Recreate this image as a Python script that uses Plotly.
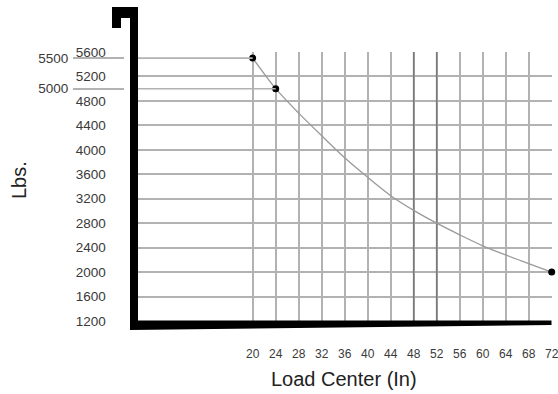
import plotly.graph_objs as go

W, H = 558, 394

# values
load_center = [20, 24, 28, 32, 36, 40, 44, 48, 52, 56, 60, 64, 68, 72]
capacity = [5500, 5000, 4600, 4230, 3870, 3550, 3250, 3010, 2800, 2610, 2430, 2280, 2140, 2000]
point_x = [20, 24, 72]
point_y = [5500, 5000, 2000]
rated_x = [20, 24]
rated_y = [5500, 5000]
x_ticks = list(range(20, 76, 4))
y_ticks = list(range(1200, 5700, 400))
dark_x = [48, 52]

grid = '#b2b2b2'
txt = '#3a3a3a'


def px(x):
    # screen pixel -> paper fraction
    return x / W


def py(y):
    return 1 - y / H


fig = go.Figure()

# partial lines for the rated capacities
lx, ly = [], []
for xv, yv in zip(rated_x, rated_y):
    lx += [0, xv, None]
    ly += [yv, yv, None]
fig.add_trace(go.Scatter(x=lx, y=ly, yaxis='y2', mode='lines',
                         line=dict(color=grid, width=1.6), hoverinfo='skip'))

# darker gridlines
for xv in dark_x:
    fig.add_trace(go.Scatter(x=[xv, xv], y=[y_ticks[0], y_ticks[-1]], mode='lines',
                             line=dict(color='#7a7a7a', width=1.6), hoverinfo='skip'))

fig.add_trace(go.Scatter(x=load_center, y=capacity, mode='lines',
                         line=dict(color='#9a9a9a', width=1.3, shape='spline', smoothing=0.8)))
fig.add_trace(go.Scatter(x=point_x, y=point_y, mode='markers', cliponaxis=False,
                         marker=dict(color='black', size=7, line=dict(width=0))))

# thick black frame with hook
frame = [(112, 7), (138, 7), (138, 320.5), (551.5, 320.5), (551.5, 325),
         (130, 330), (130, 18), (121, 18), (121, 28), (112, 28)]
path = 'M ' + ' L '.join(f'{px(a):.5f},{py(b):.5f}' for a, b in frame) + ' Z'
fig.add_shape(type='path', path=path, xref='paper', yref='paper',
              fillcolor='black', line=dict(width=0))

fig.update_layout(
    width=W, height=H,
    margin=dict(l=0, r=0, t=0, b=0),
    paper_bgcolor='white', plot_bgcolor='white',
    showlegend=False,
    font=dict(family='Liberation Sans, Arial, sans-serif', color=txt),
    xaxis=dict(range=[0, 72.02], domain=[px(137.7), px(551.8)],
               tickvals=x_ticks, showgrid=True, gridcolor=grid, gridwidth=1.6,
               zeroline=False, showline=False, ticks='', automargin=False,
               ticklabelstandoff=24, ticklabeloverflow='allow',
               tickfont=dict(size=12, color=txt)),
    yaxis=dict(range=[1200, 5600], domain=[py(321), py(52)],
               tickvals=y_ticks, showgrid=True, gridcolor=grid, gridwidth=1.6,
               zeroline=False, showline=False, ticks='', automargin=False,
               ticklabelstandoff=31, tickfont=dict(size=13.5, color=txt)),
    yaxis2=dict(range=[1200, 5600], overlaying='y', anchor='free', position=px(124),
                side='left', tickvals=rated_y, showgrid=False, zeroline=False,
                showline=False, ticks='outside', ticklen=51, tickwidth=1.6,
                tickcolor=grid, automargin=False, ticklabelstandoff=2,
                tickfont=dict(size=13.5, color=txt)),
    annotations=[
        dict(text='Lbs.', x=px(19), y=py(180), xref='paper', yref='paper',
             xanchor='center', yanchor='middle',
             textangle=-90, showarrow=False, font=dict(size=20, color='#222')),
        dict(text='Load Center (In)', x=px(344), y=py(379), xref='paper', yref='paper',
             xanchor='center', yanchor='middle',
             showarrow=False, font=dict(size=20, color='#222')),
    ],
)

# drop the default page margin so the figure fills the window exactly
fig.write_html('out.html', config={'displayModeBar': False},
               post_script="document.body.style.margin='0';")
